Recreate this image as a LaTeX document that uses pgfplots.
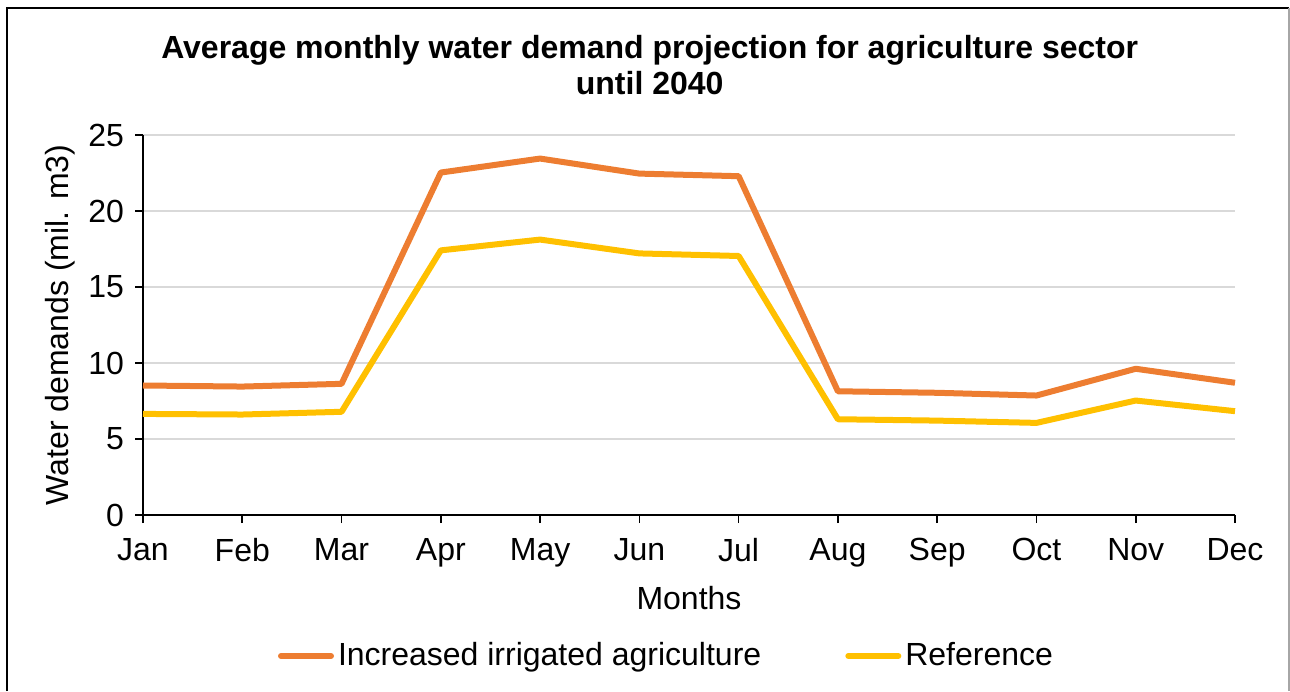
\documentclass[border=0pt]{standalone}
\usepackage{pgfplots}
\pgfplotsset{compat=1.18}
\usepackage{fontspec}
\setmainfont{Liberation Sans}
\definecolor{cOrange}{HTML}{ED7D31}
\definecolor{cYellow}{HTML}{FFC000}
\definecolor{cGrid}{HTML}{D9D9D9}
\pgfplotstableread{
m inc ref
0 8.52 6.65
1 8.45 6.61
2 8.63 6.79
3 22.53 17.41
4 23.45 18.12
5 22.46 17.21
6 22.29 17.04
7 8.14 6.30
8 8.04 6.21
9 7.86 6.06
10 9.62 7.53
11 8.70 6.83
}\datatable
\begin{document}
\fontsize{16pt}{18pt}\selectfont
\begin{tikzpicture}
\path[use as bounding box] (0,0) rectangle (645pt,345.5pt);
\draw[black, line width=1pt] (3.25pt,0) -- (3.25pt,341.5pt) -- (644.5pt,341.5pt);
\draw[gray!70, line width=1pt] (644.5pt,341.5pt) -- (644.5pt,0);
\begin{axis}[
  at={(71.5pt,88pt)}, anchor=south west,
  scale only axis, width=546pt, height=190pt,
  xmin=0, xmax=11, ymin=0, ymax=25,
  xtick={0,...,11},
  xticklabels={Jan,Feb,Mar,Apr,May,Jun,Jul,Aug,Sep,Oct,Nov,Dec},
  ytick={0,5,...,25},
  axis x line=bottom, axis y line=left,
  axis line style={-, line width=0.8pt, black},
  tick align=outside, major tick length=4pt,
  tick style={black, line width=0.8pt},
  ymajorgrids, grid style={cGrid, line width=0.8pt},
  /pgf/number format/assume math mode=true,
  tick label style={font=\fontsize{16pt}{18pt}\selectfont},
  xticklabel style={yshift=-2pt},
  xlabel={Months}, ylabel={Water demands (mil. m3)},
  label style={font=\fontsize{16pt}{18pt}\selectfont},
  xlabel style={at={(axis description cs:0.5,-0.218)}, anchor=center},
  ylabel style={at={(axis description cs:-0.076,0.5)}, anchor=center},
  title={Average monthly water demand projection for agriculture sector\\until 2040},
  title style={at={(axis description cs:0.464,1.153)}, anchor=center, align=center, font=\fontsize{16pt}{18pt}\selectfont\bfseries},
  legend columns=2,
  legend style={at={(axis description cs:0.4803,-0.371)}, anchor=center, draw=none, fill=none,
    font=\fontsize{16pt}{18pt}\selectfont,
    /tikz/every even column/.append style={column sep=40pt}},
  legend image code/.code={\draw[#1, line width=3pt, line cap=round] (0pt,0pt) -- (25pt,0pt);},
  clip=false,
]
\addplot[cOrange, line width=3pt, line join=round] table[x=m, y=inc] {\datatable};
\addlegendentry{Increased irrigated agriculture}
\addplot[cYellow, line width=3pt, line join=round] table[x=m, y=ref] {\datatable};
\addlegendentry{Reference}
\end{axis}
\end{tikzpicture}
\end{document}
